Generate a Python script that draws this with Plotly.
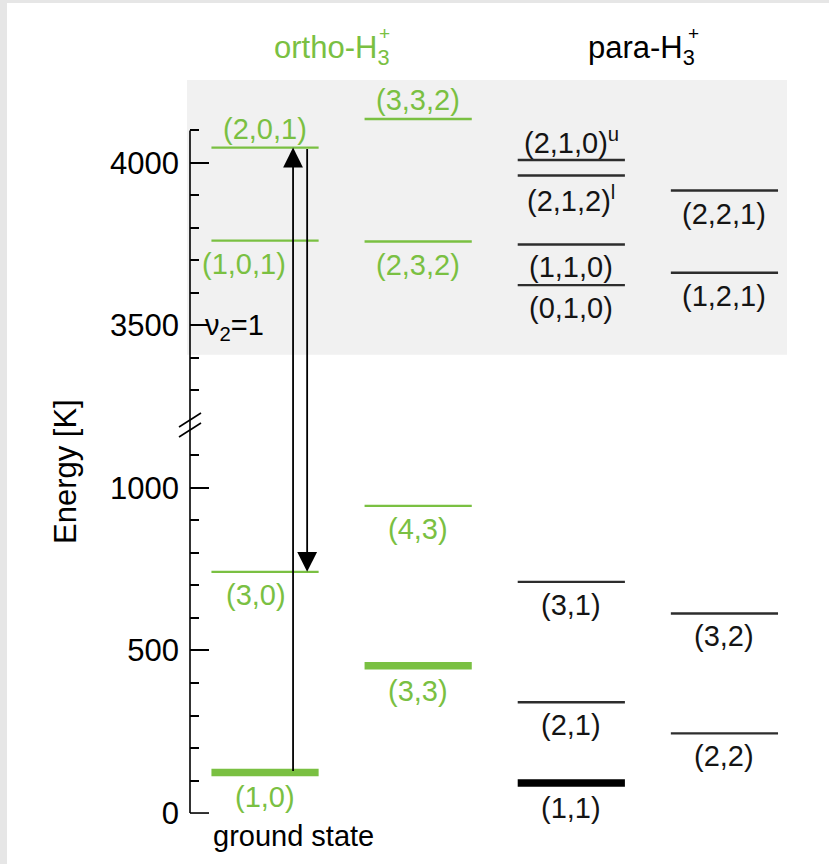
import plotly.graph_objects as go

# ---------------------------------------------------------------- data
# Rotational levels of H3+ (energies in K above the J=0 origin).
# Ground vibrational state labelled (J,K); nu2=1 states labelled (J,G,U).
ortho_labels = ["(1,0)", "(3,0)", "(3,3)", "(4,3)",
                "(1,0,1)", "(2,0,1)", "(2,3,2)", "(3,3,2)"]
ortho_energy = [125, 742, 453, 945, 3761, 4047, 3758, 4135]
ortho_column = [1, 1, 2, 2, 1, 1, 2, 2]

para_labels = ["(1,1)", "(2,1)", "(3,1)", "(2,2)", "(3,2)",
               "(0,1,0)", "(1,1,0)", "(2,1,2)<sup>l</sup>", "(2,1,0)<sup>u</sup>",
               "(1,2,1)", "(2,2,1)"]
para_energy = [92, 341, 711, 245, 614, 3624, 3749, 3961, 4009, 3662, 3915]
para_column = [3, 3, 3, 4, 4, 3, 3, 3, 3, 4, 4]

# populated (thick) levels
thick_levels = ["(1,0)", "(3,3)", "(1,1)"]

# pump (1,0) -> (2,0,1) and emission (2,0,1) -> (3,0)
pump_from, pump_to = 125, 4047
emit_from, emit_to = 4047, 742

major_ticks = [0, 500, 1000, 3500, 4000]
minor_ticks = [100, 200, 300, 400, 600, 700, 800, 900, 1100,
               3300, 3400, 3600, 3700, 3800, 3900, 4100]
vib_band_start = 3410          # lower edge of the shaded nu2=1 region
vib_label_energy = 3500

# ---------------------------------------------------------------- style
GREEN = "rgb(122,192,66)"
DARK = "rgb(45,45,45)"
FONT = "Liberation Sans, Arial, Helvetica, sans-serif"
FS = 29
FS_BIG = 31
HALF = 0.35                    # half length of a level bar (column units)
BREAK_SHIFT = 2000             # energy gap cut out of the axis (1200-3200 K)

W, H = 829, 864
ML, MR, MT, MB = 190, 42, 80, 50
PW, PH = W - ML - MR, H - MT - MB
XR = [0.51, 4.4085]
YR = [-3, 2255]


def axis_y(e):
    return e - BREAK_SHIFT if e > 2000 else e


def px_to_paper_x(px):
    return (px - ML) / PW


def py_to_paper_y(py):
    return (H - MB - py) / PH


fig = go.Figure()

# shaded vibrationally excited region
fig.add_shape(type="rect", xref="paper", yref="y", layer="below",
              x0=px_to_paper_x(187), x1=1, y0=axis_y(vib_band_start), y1=YR[1],
              fillcolor="rgb(241,241,241)", line_width=0)

# energy levels
label_above = {"(2,0,1)", "(3,3,2)", "(2,1,0)<sup>u</sup>"}
label_nudge = {"(1,0,1)": -21, "(3,0)": -9}

annotations = []


def add_levels(labels, energies, columns, color, label_color):
    for lab, e, c in zip(labels, energies, columns):
        thick = lab in thick_levels
        fig.add_trace(go.Scatter(
            x=[c - HALF, c + HALF], y=[axis_y(e), axis_y(e)], mode="lines",
            line=dict(color=("black" if (thick and color == DARK) else color),
                      width=7.5 if thick else 2.4),
            hoverinfo="skip", showlegend=False))
        above = lab in label_above
        annotations.append(dict(
            x=c, y=axis_y(e), xref="x", yref="y", text=lab, showarrow=False,
            xanchor="center", yanchor="middle",
            xshift=label_nudge.get(lab, 0),
            yshift=(19 if above else -(25 if thick else 23)),
            font=dict(family=FONT, size=FS, color=label_color)))


add_levels(ortho_labels, ortho_energy, ortho_column, GREEN, GREEN)
add_levels(para_labels, para_energy, para_column, DARK, "rgb(20,20,20)")

# transitions
for x, e0, e1 in [(1.183, pump_from, pump_to), (1.275, emit_from, emit_to)]:
    annotations.append(dict(
        x=x, y=axis_y(e1), ax=x, ay=axis_y(e0), xref="x", yref="y",
        axref="x", ayref="y", text="", showarrow=True, arrowhead=2,
        arrowsize=2.2, arrowwidth=1.8, arrowcolor="black", standoff=0))


def paper_text(px, py, text, size=FS_BIG, color="black", **kw):
    d = dict(x=px_to_paper_x(px), y=py_to_paper_y(py), xref="paper", yref="paper",
             text=text, showarrow=False, xanchor=kw.pop("xanchor", "center"),
             yanchor=kw.pop("yanchor", "middle"),
             font=dict(family=FONT, size=size, color=color))
    d.update(kw)
    annotations.append(d)


# column titles: H with stacked subscript 3 and superscript +
paper_text(272, 50, "ortho-H<sub>3</sub>", color=GREEN, xanchor="left")
paper_text(377, 33, "+", size=19, color=GREEN, xanchor="left")
paper_text(586, 50, "para-H<sub>3</sub>", xanchor="left")
paper_text(686, 33, "+", size=19, xanchor="left")

paper_text(65, 472, "Energy [K]", textangle=-90)
paper_text(211, 836, "ground state", size=FS, xanchor="left")

annotations.append(dict(
    x=px_to_paper_x(203), y=axis_y(vib_label_energy), xref="paper", yref="y",
    text="ν<sub>2</sub>=1", showarrow=False, xanchor="left", yanchor="middle",
    yshift=-2, font=dict(family=FONT, size=FS, color="black")))

# energy axis line with a break, closed at the bottom by the zero tick
fig.add_shape(type="line", xref="paper", yref="y", x0=0, x1=0,
              y0=0, y1=axis_y(4100), line=dict(color="black", width=1.6))
fig.add_shape(type="line", xref="paper", yref="y", x0=0, x1=px_to_paper_x(209),
              y0=0, y1=0, line=dict(color="black", width=1.6))
for py in (420, 430):
    fig.add_shape(type="line", xref="paper", yref="paper",
                  x0=px_to_paper_x(179), x1=px_to_paper_x(201),
                  y0=py_to_paper_y(py + 7), y1=py_to_paper_y(py - 7),
                  line=dict(color="black", width=1.6))

# thin grey frame on the left and top edges
fig.add_shape(type="rect", xref="paper", yref="paper",
              x0=px_to_paper_x(0), x1=px_to_paper_x(7),
              y0=py_to_paper_y(H), y1=py_to_paper_y(0),
              fillcolor="rgb(230,230,230)", line_width=0)
fig.add_shape(type="rect", xref="paper", yref="paper",
              x0=px_to_paper_x(0), x1=1 + MR / PW,
              y0=py_to_paper_y(3), y1=py_to_paper_y(0),
              fillcolor="rgb(230,230,230)", line_width=0)

fig.update_layout(
    width=W, height=H, margin=dict(l=ML, r=MR, t=MT, b=MB),
    paper_bgcolor="white", plot_bgcolor="rgba(0,0,0,0)",
    showlegend=False, annotations=annotations,
    xaxis=dict(range=XR, visible=False, fixedrange=True),
    yaxis=dict(
        range=YR, showgrid=False, zeroline=False, showline=False,
        tickmode="array",
        tickvals=[axis_y(e) for e in major_ticks],
        ticktext=[str(e) for e in major_ticks],
        ticks="inside", ticklen=19, tickwidth=1.6, tickcolor="black",
        ticklabelstandoff=10,
        tickfont=dict(family=FONT, size=FS_BIG, color="black"),
        minor=dict(tickmode="array",
                   tickvals=[axis_y(e) for e in minor_ticks],
                   ticks="inside", ticklen=9, tickwidth=1.6, tickcolor="black"),
    ),
)

fig.write_html("out.html")
